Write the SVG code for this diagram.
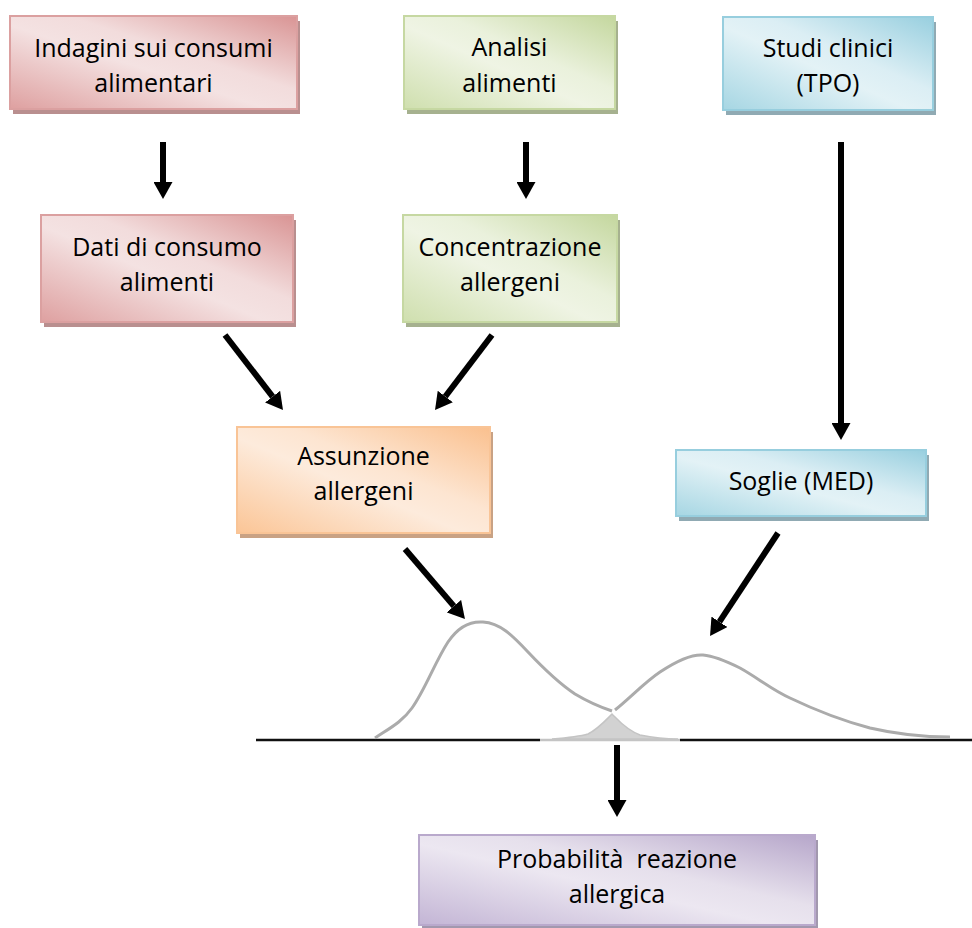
<svg xmlns="http://www.w3.org/2000/svg" width="972" height="928" viewBox="0 0 972 928">
<style>
text { font-family: "Open Sans", "Liberation Sans", sans-serif; font-size: 25px; fill: #000; text-anchor: middle; white-space: pre; }
.box { stroke-width: 2; }
.arrow { stroke: #000; stroke-width: 6; fill: none; marker-end: url(#head); }
.curve { fill: none; stroke: #ababab; stroke-width: 3; stroke-linejoin: round; }
</style>
<defs>
<marker id="head" markerUnits="userSpaceOnUse" markerWidth="18" markerHeight="19" refX="0" refY="9.5" orient="auto">
<path d="M0,0 L17,9.5 L0,19 Z" fill="#000"/>
</marker>
<linearGradient id="gRed" x1="0" y1="1" x2="1" y2="0">
<stop offset="0" stop-color="#dea0a0"/><stop offset="0.45" stop-color="#f4e2e2"/><stop offset="0.6" stop-color="#f2dcdc"/><stop offset="1" stop-color="#d99494"/>
</linearGradient>
<linearGradient id="gGreen" x1="0" y1="1" x2="1" y2="0">
<stop offset="0" stop-color="#cfdfae"/><stop offset="0.45" stop-color="#eff4e4"/><stop offset="0.6" stop-color="#eaf1dc"/><stop offset="1" stop-color="#c4d79e"/>
</linearGradient>
<linearGradient id="gBlue" x1="0" y1="1" x2="1" y2="0">
<stop offset="0" stop-color="#a6d6e3"/><stop offset="0.45" stop-color="#e3f2f6"/><stop offset="0.6" stop-color="#dbeef4"/><stop offset="1" stop-color="#98cfdf"/>
</linearGradient>
<linearGradient id="gOrange" x1="0" y1="1" x2="1" y2="0">
<stop offset="0" stop-color="#fbc596"/><stop offset="0.45" stop-color="#fdebdc"/><stop offset="0.6" stop-color="#fde5d1"/><stop offset="1" stop-color="#fac08e"/>
</linearGradient>
<linearGradient id="gPurple" x1="0" y1="1" x2="1" y2="0">
<stop offset="0" stop-color="#c3b5d5"/><stop offset="0.45" stop-color="#ece7f1"/><stop offset="0.6" stop-color="#e6e0ec"/><stop offset="1" stop-color="#b6a6ca"/>
</linearGradient>
</defs>
<rect width="972" height="928" fill="#fff"/>

<g id="indagini">
<rect x="13" y="21" width="287" height="93" fill="#b98f8f"/>
<rect class="box" x="10" y="16" width="287" height="93" fill="url(#gRed)" stroke="#dba0a0"/>
<text x="153.5" y="57">Indagini sui consumi</text>
<text x="153.5" y="92">alimentari</text>
</g>
<g id="analisi">
<rect x="407" y="21" width="211" height="93" fill="#a6b18f"/>
<rect class="box" x="404" y="16" width="211" height="93" fill="url(#gGreen)" stroke="#c6d8a2"/>
<text x="509.5" y="56">Analisi</text>
<text x="509.5" y="92">alimenti</text>
</g>
<g id="studi">
<rect x="726" y="22" width="210" height="93" fill="#90aab3"/>
<rect class="box" x="723" y="17" width="210" height="93" fill="url(#gBlue)" stroke="#97cede"/>
<text x="828" y="57">Studi clinici</text>
<text x="828" y="92">(TPO)</text>
</g>
<g id="dati">
<rect x="44" y="220" width="252" height="107" fill="#b98f8f"/>
<rect class="box" x="41" y="215" width="252" height="107" fill="url(#gRed)" stroke="#dba0a0"/>
<text x="167" y="256">Dati di consumo</text>
<text x="167" y="291">alimenti</text>
</g>
<g id="concentrazione">
<rect x="406" y="220" width="214" height="107" fill="#a6b18f"/>
<rect class="box" x="403" y="215" width="214" height="107" fill="url(#gGreen)" stroke="#c6d8a2"/>
<text x="510" y="256">Concentrazione</text>
<text x="510" y="291">allergeni</text>
</g>
<g id="assunzione">
<rect x="240" y="432" width="253" height="106" fill="#c9a284"/>
<rect class="box" x="237" y="427" width="253" height="106" fill="url(#gOrange)" stroke="#f9c496"/>
<text x="363.5" y="465">Assunzione</text>
<text x="363.5" y="500">allergeni</text>
</g>
<g id="soglie">
<rect x="679" y="455" width="250" height="66" fill="#90aab3"/>
<rect class="box" x="676" y="450" width="250" height="66" fill="url(#gBlue)" stroke="#97cede"/>
<text x="801" y="490">Soglie (MED)</text>
</g>
<g id="probabilita">
<rect x="422" y="840" width="396" height="90" fill="#a298ae"/>
<rect class="box" x="419" y="835" width="396" height="90" fill="url(#gPurple)" stroke="#b9a9cc"/>
<text x="617" y="868">Probabilità  reazione</text>
<text x="617" y="903">allergica</text>
</g>

<g id="grafico">
<line x1="256" y1="740" x2="540" y2="740" stroke="#111" stroke-width="2.5"/>
<line x1="540" y1="740" x2="680" y2="740" stroke="#c4c4c4" stroke-width="2.5"/>
<line x1="680" y1="740" x2="972" y2="740" stroke="#111" stroke-width="2.5"/>
<path d="M552,739 C565,738 578,737 588,734 C598,729 606,720 612,714 C618,720 626,730 640,735 C655,738 665,739 678,739 Z" fill="#d2d2d2" stroke="#c4c4c4" stroke-width="1.5"/>
<path class="curve" d="M375,738 C390,728 402,722 412,708 C425,690 435,662 448,642 C458,627 470,621 483,622 C500,623 512,635 528,652 C545,670 560,684 575,694 C590,703 603,708 612,711"/>
<path class="curve" d="M615,710 C630,698 645,682 660,672 C675,662 690,654 703,655 C715,656 728,662 740,668 C758,678 772,690 790,698 C815,710 840,720 870,728 C900,735 925,737 950,737"/>
</g>

<g id="connectors">
<line class="arrow" x1="163" y1="142" x2="163" y2="182"/>
<line class="arrow" x1="526" y1="142" x2="526" y2="182"/>
<line class="arrow" x1="225" y1="335" x2="272.6" y2="396.6"/>
<line class="arrow" x1="492" y1="335" x2="445.3" y2="396.5"/>
<line class="arrow" x1="841" y1="142" x2="841" y2="423"/>
<line class="arrow" x1="405" y1="549" x2="453.9" y2="606.1"/>
<line class="arrow" x1="778" y1="533" x2="719.4" y2="621.8"/>
<line class="arrow" x1="617" y1="745" x2="617" y2="800"/>
</g>
</svg>
